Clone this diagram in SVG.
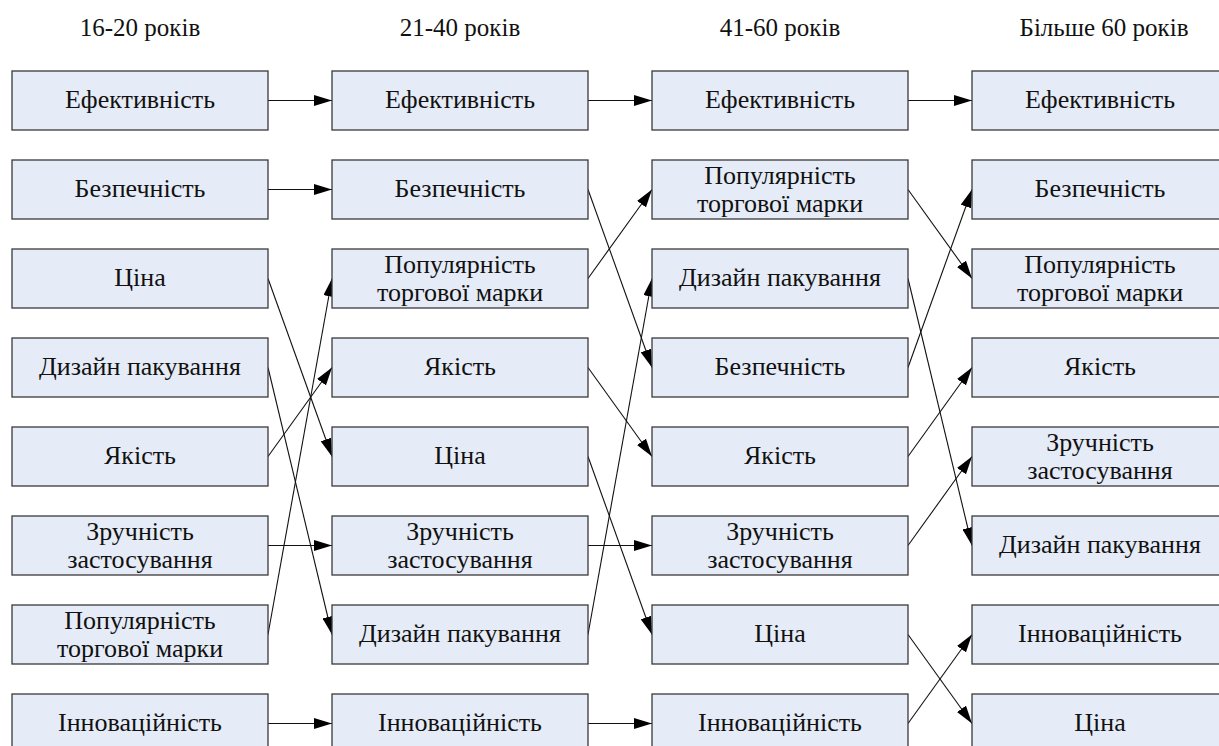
<svg xmlns="http://www.w3.org/2000/svg" width="1219" height="746" viewBox="0 0 1219 746">
<defs>
<style>
.b{fill:#E6ECF7;stroke:#3A3A3A;stroke-width:1.3}
.c{stroke:#111;stroke-width:1.1;fill:none;marker-end:url(#ah)}
.f{font-family:'Liberation Serif','DejaVu Serif',serif;fill:#111;text-anchor:middle}
</style>
<marker id="ah" markerUnits="userSpaceOnUse" markerWidth="18" markerHeight="11" refX="18" refY="5.5" orient="auto"><path d="M0,0 L18,5.5 L0,11 z" fill="#000"/></marker>
</defs>
<rect width="1219" height="746" fill="#fff"/>
<g id="headers" class="f" font-size="25">
<text x="140" y="36">16-20 років</text>
<text x="460" y="36">21-40 років</text>
<text x="780" y="36">41-60 років</text>
<text x="1104" y="36">Більше 60 років</text>
</g>
<g id="connectors">
<path class="c" d="M268,100.5 L332,100.5"/>
<path class="c" d="M268,189.5 L332,189.5"/>
<path class="c" d="M268,278.5 L332,456.5"/>
<path class="c" d="M268,367.5 L332,634.5"/>
<path class="c" d="M268,456.5 L332,367.5"/>
<path class="c" d="M268,545.5 L332,545.5"/>
<path class="c" d="M268,634.5 L332,278.5"/>
<path class="c" d="M268,723.5 L332,723.5"/>
<path class="c" d="M588,100.5 L652,100.5"/>
<path class="c" d="M588,189.5 L652,367.5"/>
<path class="c" d="M588,278.5 L652,189.5"/>
<path class="c" d="M588,367.5 L652,456.5"/>
<path class="c" d="M588,456.5 L652,634.5"/>
<path class="c" d="M588,545.5 L652,545.5"/>
<path class="c" d="M588,634.5 L652,278.5"/>
<path class="c" d="M588,723.5 L652,723.5"/>
<path class="c" d="M908,100.5 L972,100.5"/>
<path class="c" d="M908,189.5 L972,278.5"/>
<path class="c" d="M908,278.5 L972,545.5"/>
<path class="c" d="M908,367.5 L972,189.5"/>
<path class="c" d="M908,456.5 L972,367.5"/>
<path class="c" d="M908,545.5 L972,456.5"/>
<path class="c" d="M908,634.5 L972,723.5"/>
<path class="c" d="M908,723.5 L972,634.5"/>
</g>
<g class="f" font-size="26">
<g id="c1r1"><rect class="b" x="12" y="71" width="256" height="59"/><text x="140" y="108">Ефективність</text></g>
<g id="c1r2"><rect class="b" x="12" y="160" width="256" height="59"/><text x="140" y="197">Безпечність</text></g>
<g id="c1r3"><rect class="b" x="12" y="249" width="256" height="59"/><text x="140" y="286">Ціна</text></g>
<g id="c1r4"><rect class="b" x="12" y="338" width="256" height="59"/><text x="140" y="375">Дизайн пакування</text></g>
<g id="c1r5"><rect class="b" x="12" y="427" width="256" height="59"/><text x="140" y="464">Якість</text></g>
<g id="c1r6"><rect class="b" x="12" y="516" width="256" height="59"/><text x="140" y="539.5">Зручність</text><text x="140" y="568">застосування</text></g>
<g id="c1r7"><rect class="b" x="12" y="605" width="256" height="59"/><text x="140" y="628.5">Популярність</text><text x="140" y="657">торгової марки</text></g>
<g id="c1r8"><rect class="b" x="12" y="694" width="256" height="59"/><text x="140" y="731">Інноваційність</text></g>

<g id="c2r1"><rect class="b" x="332" y="71" width="256" height="59"/><text x="460" y="108">Ефективність</text></g>
<g id="c2r2"><rect class="b" x="332" y="160" width="256" height="59"/><text x="460" y="197">Безпечність</text></g>
<g id="c2r3"><rect class="b" x="332" y="249" width="256" height="59"/><text x="460" y="272.5">Популярність</text><text x="460" y="301">торгової марки</text></g>
<g id="c2r4"><rect class="b" x="332" y="338" width="256" height="59"/><text x="460" y="375">Якість</text></g>
<g id="c2r5"><rect class="b" x="332" y="427" width="256" height="59"/><text x="460" y="464">Ціна</text></g>
<g id="c2r6"><rect class="b" x="332" y="516" width="256" height="59"/><text x="460" y="539.5">Зручність</text><text x="460" y="568">застосування</text></g>
<g id="c2r7"><rect class="b" x="332" y="605" width="256" height="59"/><text x="460" y="642">Дизайн пакування</text></g>
<g id="c2r8"><rect class="b" x="332" y="694" width="256" height="59"/><text x="460" y="731">Інноваційність</text></g>

<g id="c3r1"><rect class="b" x="652" y="71" width="256" height="59"/><text x="780" y="108">Ефективність</text></g>
<g id="c3r2"><rect class="b" x="652" y="160" width="256" height="59"/><text x="780" y="183.5">Популярність</text><text x="780" y="212">торгової марки</text></g>
<g id="c3r3"><rect class="b" x="652" y="249" width="256" height="59"/><text x="780" y="286">Дизайн пакування</text></g>
<g id="c3r4"><rect class="b" x="652" y="338" width="256" height="59"/><text x="780" y="375">Безпечність</text></g>
<g id="c3r5"><rect class="b" x="652" y="427" width="256" height="59"/><text x="780" y="464">Якість</text></g>
<g id="c3r6"><rect class="b" x="652" y="516" width="256" height="59"/><text x="780" y="539.5">Зручність</text><text x="780" y="568">застосування</text></g>
<g id="c3r7"><rect class="b" x="652" y="605" width="256" height="59"/><text x="780" y="642">Ціна</text></g>
<g id="c3r8"><rect class="b" x="652" y="694" width="256" height="59"/><text x="780" y="731">Інноваційність</text></g>

<g id="c4r1"><rect class="b" x="972" y="71" width="256" height="59"/><text x="1100" y="108">Ефективність</text></g>
<g id="c4r2"><rect class="b" x="972" y="160" width="256" height="59"/><text x="1100" y="197">Безпечність</text></g>
<g id="c4r3"><rect class="b" x="972" y="249" width="256" height="59"/><text x="1100" y="272.5">Популярність</text><text x="1100" y="301">торгової марки</text></g>
<g id="c4r4"><rect class="b" x="972" y="338" width="256" height="59"/><text x="1100" y="375">Якість</text></g>
<g id="c4r5"><rect class="b" x="972" y="427" width="256" height="59"/><text x="1100" y="450.5">Зручність</text><text x="1100" y="479">застосування</text></g>
<g id="c4r6"><rect class="b" x="972" y="516" width="256" height="59"/><text x="1100" y="553">Дизайн пакування</text></g>
<g id="c4r7"><rect class="b" x="972" y="605" width="256" height="59"/><text x="1100" y="642">Інноваційність</text></g>
<g id="c4r8"><rect class="b" x="972" y="694" width="256" height="59"/><text x="1100" y="731">Ціна</text></g>
</g>
</svg>
